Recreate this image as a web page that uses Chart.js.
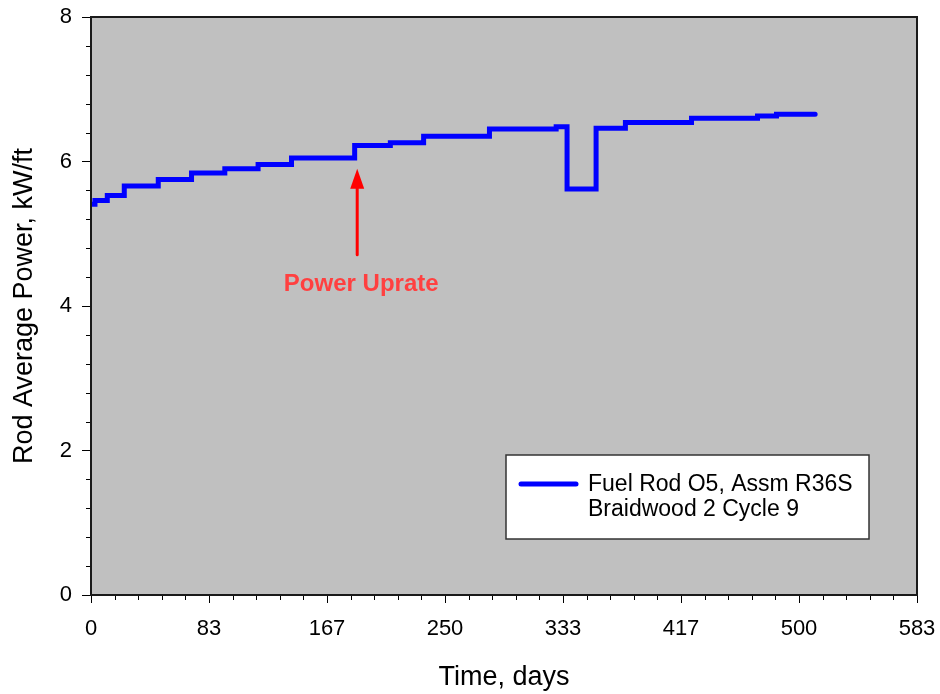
<!DOCTYPE html>
<html>
<head>
<meta charset="utf-8">
<script src="https://cdn.jsdelivr.net/npm/chart.js@4.4.1/dist/chart.umd.min.js"></script>
<style>
html, body { margin: 0; padding: 0; background: #fff; }
#wrap { width: 940px; height: 694px; }
</style>
</head>
<body>
<div id="wrap"><canvas id="grafico" width="940" height="694"></canvas></div>
<script>
// step changes: power value holds from this day until the next one
const stepDays = [0, 2.8, 11.5, 23.5, 47.5, 71, 94.5, 118, 141.6, 186.2, 211.4, 234.9, 281.4, 328.5, 336.2, 356.7, 377.4, 424.1, 470.7, 484.1, 511.4];
const rodPower = [5.41, 5.46, 5.53, 5.66, 5.75, 5.84, 5.90, 5.96, 6.05, 6.22, 6.26, 6.35, 6.45, 6.48, 5.62, 6.46, 6.54, 6.60, 6.63, 6.655, 6.655];

const xTickValues = [0, 583.333 / 7, 583.333 * 2 / 7, 250, 583.333 * 4 / 7, 583.333 * 5 / 7, 500, 583.333];
const xTickLabels = ['0', '83', '167', '250', '333', '417', '500', '583'];
const yTickValues = [0, 2, 4, 6, 8];
const yTickLabels = ['0', '2', '4', '6', '8'];

const seriesName = ['Fuel Rod O5, Assm R36S', 'Braidwood 2 Cycle 9'];
const uprateDay = 188;
const uprateText = 'Power Uprate';

const FONT = "'Liberation Sans', Arial, Helvetica, sans-serif";

// keep the plot box where the layout padding puts it
function noLabelPadding(s) {
  s.paddingTop = 0; s.paddingBottom = 0; s.paddingLeft = 0; s.paddingRight = 0;
}

const extras = {
  id: 'extras',
  beforeDraw(chart) {
    const { ctx, chartArea: a } = chart;
    ctx.save();
    ctx.fillStyle = '#c0c0c0';
    ctx.fillRect(a.left, a.top, a.right - a.left, a.bottom - a.top);
    ctx.restore();
  },
  afterDraw(chart) {
    const { ctx, chartArea: a } = chart;
    const xs = chart.scales.x, ys = chart.scales.y;
    ctx.save();

    // minor ticks
    ctx.strokeStyle = '#000';
    ctx.lineWidth = 1;
    ctx.beginPath();
    const xStep = (xs.max - xs.min) / 35;
    for (let i = 1; i < 35; i++) {
      if (i % 5 === 0) continue;
      const px = Math.round(xs.getPixelForValue(i * xStep)) + 0.5;
      ctx.moveTo(px, a.bottom);
      ctx.lineTo(px, a.bottom + 5);
    }
    for (let i = 1; i < 20; i++) {
      if (i % 5 === 0) continue;
      const py = Math.round(ys.getPixelForValue(i * 0.4)) + 0.5;
      ctx.moveTo(a.left, py);
      ctx.lineTo(a.left - 5, py);
    }
    ctx.stroke();

    // frame
    ctx.strokeStyle = '#1a1a1a';
    ctx.lineWidth = 2;
    ctx.strokeRect(a.left, a.top, a.right - a.left, a.bottom - a.top);

    // uprate arrow
    const ax = xs.getPixelForValue(uprateDay);
    const tip = ys.getPixelForValue(5.9);
    const tail = ys.getPixelForValue(4.71);
    ctx.strokeStyle = '#ff0000';
    ctx.fillStyle = '#ff0000';
    ctx.lineWidth = 3;
    ctx.lineCap = 'round';
    ctx.beginPath();
    ctx.moveTo(ax, tail);
    ctx.lineTo(ax, tip + 15);
    ctx.stroke();
    ctx.beginPath();
    ctx.moveTo(ax, tip);
    ctx.lineTo(ax - 7, tip + 20);
    ctx.lineTo(ax + 7, tip + 20);
    ctx.closePath();
    ctx.fill();

    ctx.fillStyle = '#ff4040';
    ctx.font = 'bold 24px ' + FONT;
    ctx.textAlign = 'center';
    ctx.textBaseline = 'middle';
    ctx.fillText(uprateText, ax + 4, ys.getPixelForValue(4.3));

    // legend box
    const bx = a.right - 411, by = a.bottom - 140, bw = 363, bh = 84;
    ctx.fillStyle = '#fff';
    ctx.fillRect(bx, by, bw, bh);
    ctx.strokeStyle = '#333';
    ctx.lineWidth = 1.5;
    ctx.strokeRect(bx, by, bw, bh);
    const ds = chart.data.datasets[0];
    ctx.strokeStyle = ds.borderColor;
    ctx.lineWidth = 5;
    ctx.beginPath();
    ctx.moveTo(bx + 15, by + 29);
    ctx.lineTo(bx + 70, by + 29);
    ctx.stroke();
    ctx.fillStyle = '#000';
    ctx.font = '23px ' + FONT;
    ctx.textAlign = 'left';
    ds.label.forEach((t, i) => ctx.fillText(t, bx + 82, by + 30 + i * 25));

    ctx.restore();
  }
};

new Chart(document.getElementById('grafico'), {
  type: 'line',
  data: {
    datasets: [{
      label: seriesName,
      data: stepDays.map((d, i) => ({ x: d, y: rodPower[i] })),
      borderColor: '#0000ff',
      borderWidth: 5,
      borderCapStyle: 'round',
      borderJoinStyle: 'miter',
      stepped: 'before',
      pointRadius: 0,
      fill: false
    }]
  },
  options: {
    responsive: false,
    animation: false,
    layout: { padding: { top: 17, right: 23, left: 0, bottom: 0 } },
    plugins: { legend: { display: false }, tooltip: { enabled: false } },
    scales: {
      x: {
        type: 'linear',
        min: 0,
        max: 583.333,
        afterBuildTicks: s => { s.ticks = xTickValues.map(v => ({ value: v })); },
        afterFit: s => { s.height = 99; noLabelPadding(s); },
        grid: { drawOnChartArea: false, drawTicks: true, tickLength: 8, color: '#000', lineWidth: 1 },
        border: { display: false },
        ticks: {
          color: '#000',
          font: { family: FONT, size: 22 },
          padding: 13,
          maxRotation: 0,
          autoSkip: false,
          callback: (v, i) => xTickLabels[i]
        },
        title: { display: true, text: 'Time, days', color: '#000', font: { family: FONT, size: 27 }, padding: { top: 0, bottom: 0 } }
      },
      y: {
        min: 0,
        max: 8,
        afterBuildTicks: s => { s.ticks = yTickValues.map(v => ({ value: v })); },
        afterFit: s => { s.width = 91; noLabelPadding(s); },
        grid: { drawOnChartArea: false, drawTicks: true, tickLength: 9, color: '#000', lineWidth: 1 },
        border: { display: false },
        ticks: {
          color: '#000',
          font: { family: FONT, size: 22 },
          padding: 10,
          autoSkip: false,
          callback: (v, i) => yTickLabels[i]
        },
        title: { display: true, text: 'Rod Average Power, kW/ft', color: '#000', font: { family: FONT, size: 27 }, padding: { top: 8, bottom: 0 } }
      }
    }
  },
  plugins: [extras]
});
</script>
</body>
</html>
